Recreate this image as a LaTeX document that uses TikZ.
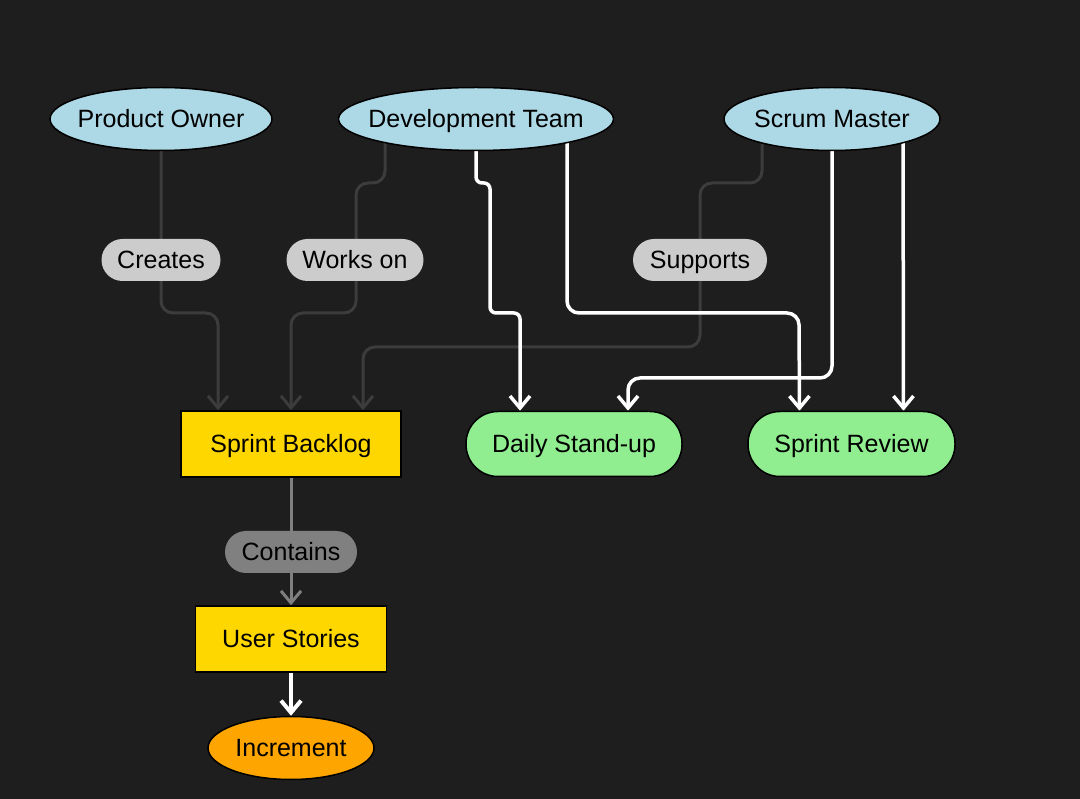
\documentclass[tikz,border=0pt]{standalone}
\usepackage{fontspec}
\setmainfont{Liberation Sans}
\usetikzlibrary{arrows.meta,shapes.geometric,calc}
\pgfdeclarelayer{bg}
\pgfdeclarelayer{edges}
\pgfsetlayers{bg,edges,main}
\definecolor{bgc}{HTML}{1E1E1E}
\definecolor{actor}{HTML}{ADD8E6}
\definecolor{artifact}{HTML}{FFD700}
\definecolor{event}{HTML}{90EE90}
\definecolor{incr}{HTML}{FFA500}
\definecolor{lblfill}{HTML}{CCCCCC}
\definecolor{darkedge}{HTML}{3C3C3C}
\definecolor{midgray}{HTML}{808080}
\begin{document}
\begin{tikzpicture}[x=1pt,y=-1pt,
  font=\fontsize{25}{30}\selectfont,
  actorbox/.style={ellipse, draw=black, line width=1.5pt, fill=actor, inner sep=0pt, minimum height=63pt},
  centertext/.style={text height=22pt, text depth=5pt},
  artbox/.style={rectangle, draw=black, line width=1.5pt, fill=artifact, inner sep=0pt, minimum height=66pt, centertext},
  eventbox/.style={rectangle, rounded corners=32pt, draw=black, line width=1.5pt, fill=event, inner sep=0pt, minimum height=65pt, centertext},
  pill/.style={rectangle, rounded corners=21pt, fill=lblfill, inner sep=0pt, minimum height=42pt, text=black, centertext},
  tip/.style={-{Straight Barb[length=12pt,width=20pt]}},
  gedge/.style={tip, draw=darkedge, line width=3pt, rounded corners=12pt},
  wedge/.style={tip, draw=white, line width=3.5pt, rounded corners=12pt},
]
\begin{pgfonlayer}{bg}
  \fill[bgc] (0,0) rectangle (1080,799);
\end{pgfonlayer}
\useasboundingbox (0,0) rectangle (1080,799);

% nodes
\node[actorbox, minimum width=222pt, label={[centertext]center:Product Owner}] (po) at (161,119) {};
\node[actorbox, minimum width=275pt, label={[centertext]center:Development Team}] (dev) at (476,119) {};
\node[actorbox, minimum width=216pt, label={[centertext]center:Scrum Master}] (sm) at (832,119) {};

\node[artbox, minimum width=220pt] (sb) at (291,444) {Sprint Backlog};
\node[eventbox, minimum width=216pt] (ds) at (574,444) {Daily Stand-up};
\node[eventbox, minimum width=207pt] (sr) at (851.5,444) {Sprint Review};
\node[artbox, minimum width=191pt] (us) at (291,639) {User Stories};
\node[ellipse, draw=black, line width=1.5pt, fill=incr, inner sep=0pt, minimum width=166pt, minimum height=63pt, label={[centertext]center:Increment}] (inc) at (291,748) {};

% edges
\begin{pgfonlayer}{edges}
  \draw[gedge] (po.center) -- (161,313) -- (218,313) -- ($(sb.north)+(-73,0)$);
  \draw[gedge] ($(dev.center)+(-91,0)$) -- (385,183) -- (356,183) -- (356,313) -- (291,313) -- (sb.north);
  \draw[gedge] ($(sm.center)+(-70,0)$) -- (762,183) -- (700,183) -- (700,347) -- (363,347) -- ($(sb.north)+(72,0)$);

  \draw[wedge, rounded corners=6pt] (dev.center) -- (476,183) -- (490,183) -- (490,313) -- (520,313) -- ($(ds.north)+(-54,0)$);
  \draw[wedge] ($(dev.center)+(91,0)$) -- (567,313) -- (799,313) -- ($(sr.north)+(-52,0)$);
  \draw[wedge] (sm.center) -- (832,378) -- (628,378) -- ($(ds.north)+(54,0)$);
  \draw[wedge] ($(sm.center)+(71,0)$) -- ($(sr.north)+(52,0)$);

  \draw[tip, draw=midgray, line width=3pt] (sb.south) -- (us.north);
  \draw[tip, draw=white, line width=4pt] (us.south) -- (inc.north);
\end{pgfonlayer}

% edge labels
\node[pill, minimum width=119pt] (lcreates) at (161,260) {Creates};
\node[pill, minimum width=137pt] (lworks) at (355,260) {Works on};
\node[pill, minimum width=134pt] (lsupports) at (700,260) {Supports};
\node[pill, minimum width=132pt, fill=midgray] (lcontains) at (291,552) {Contains};
\end{tikzpicture}
\end{document}
